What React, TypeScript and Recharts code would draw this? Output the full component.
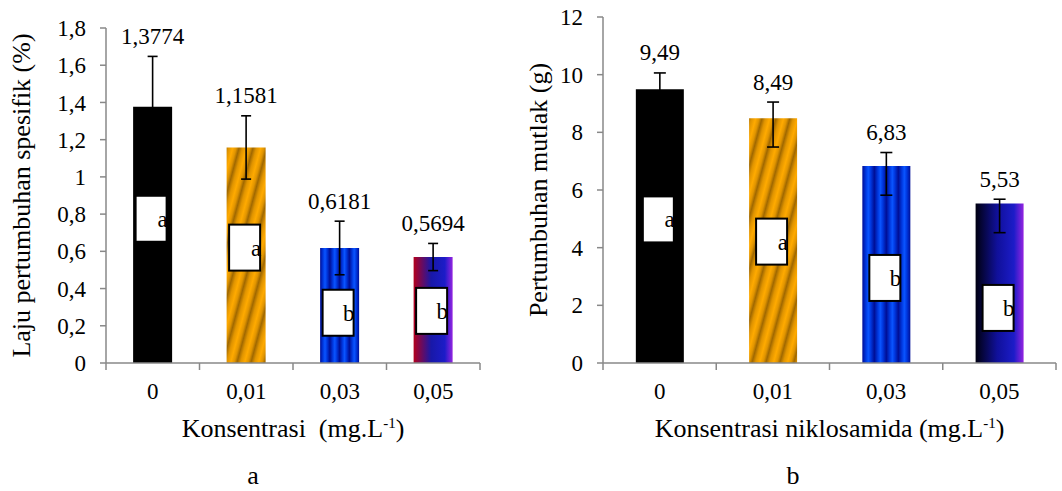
import { BarChart, Bar, XAxis, YAxis, Cell, ErrorBar, LabelList } from 'recharts';

const FONT = "'Liberation Serif', 'Times New Roman', serif";
const AXIS = '#888888';

const CATEGORIES = ['0', '0,01', '0,03', '0,05'];

// a: laju pertumbuhan spesifik (%)
const SGR = [1.3774, 1.1581, 0.6181, 0.5694];
const SGR_ERR = [0.27, 0.17, 0.144, 0.073];
const SGR_LETTERS = ['a', 'a', 'b', 'b'];
const SGR_LETTER_POS = [0.775, 0.62, 0.27, 0.28];
const SGR_TICKS = [0, 0.2, 0.4, 0.6, 0.8, 1, 1.2, 1.4, 1.6, 1.8];

// b: pertumbuhan mutlak (g)
const ABS = [9.49, 8.49, 6.83, 5.53];
const ABS_ERR_LOW = [1.0, 1.0, 1.01, 1.01];
const ABS_ERR_HIGH = [0.57, 0.56, 0.47, 0.15];
const ABS_LETTERS = ['a', 'a', 'b', 'b'];
const ABS_LETTER_POS = [4.98, 4.21, 2.95, 1.91];
const ABS_TICKS = [0, 2, 4, 6, 8, 10, 12];

type Row = { name: string; v: number; err: number[]; hi: number; letter: string; pos: number };

const sgrData: Row[] = CATEGORIES.map((name, i) => ({
  name,
  v: SGR[i],
  err: [SGR_ERR[i], SGR_ERR[i]],
  hi: SGR_ERR[i],
  letter: SGR_LETTERS[i],
  pos: SGR_LETTER_POS[i],
}));

const absData: Row[] = CATEGORIES.map((name, i) => ({
  name,
  v: ABS[i],
  err: [ABS_ERR_LOW[i], ABS_ERR_HIGH[i]],
  hi: ABS_ERR_HIGH[i],
  letter: ABS_LETTERS[i],
  pos: ABS_LETTER_POS[i],
}));

const fmt = (v: number) => String(v).replace('.', ',');

function Defs({ id, mix }: { id: string; mix: string[] }) {
  return (
    <defs>
      <linearGradient id={`${id}-gold`} gradientUnits="userSpaceOnUse" x1="0" y1="0" x2="13" y2="3.5" spreadMethod="repeat">
        <stop offset="0" stopColor="#a06800" />
        <stop offset="0.25" stopColor="#e09400" />
        <stop offset="0.55" stopColor="#ffaa00" />
        <stop offset="0.8" stopColor="#e09400" />
        <stop offset="1" stopColor="#a06800" />
      </linearGradient>
      <linearGradient id={`${id}-blue`} x1="0" y1="0" x2="0.25" y2="0" spreadMethod="repeat">
        <stop offset="0" stopColor="#000e96" />
        <stop offset="0.3" stopColor="#0038e0" />
        <stop offset="0.5" stopColor="#0a55ff" />
        <stop offset="0.7" stopColor="#0038e0" />
        <stop offset="1" stopColor="#000e96" />
      </linearGradient>
      <linearGradient id={`${id}-mix`} x1="0" y1="0" x2="1" y2="0">
        <stop offset="0" stopColor={mix[0]} />
        <stop offset="0.45" stopColor={mix[1]} />
        <stop offset="0.8" stopColor="#1c1cc8" />
        <stop offset="1" stopColor="#9424e0" />
      </linearGradient>
    </defs>
  );
}

interface PanelProps {
  id: string;
  data: Row[];
  ticks: number[];
  width: number;
  left: number;
  top: number;
  right: number;
  yAxisWidth: number;
  cap: number;
  mix: string[];
  yTitle: string;
  yTitleX: number;
  xTitle: string;
  caption: string;
  captionX: number;
}

function Panel(p: PanelProps) {
  const height = 491;
  const bottom = 68;
  const plotBottom = height - bottom - 60;
  const plotLeft = p.yAxisWidth;
  const plotRight = p.width - p.right;
  const half = (plotRight - plotLeft) / p.data.length / 2;
  const fills = ['#000', `url(#${p.id}-gold)`, `url(#${p.id}-blue)`, `url(#${p.id}-mix)`];
  const byValue = (v: number) => p.data.find((d) => d.v === v) as Row;

  const valueLabel = (props: any) => {
    const vb = props.viewBox ?? props;
    const { x, y, width, height: h } = vb;
    const row = byValue(Number(props.value));
    const k = h / row.v;
    const top = y - row.hi * k;
    return (
      <text x={x + width / 2} y={top - 12.5} textAnchor="middle" fontSize={23} fontFamily={FONT} fill="#000">
        {fmt(row.v)}
      </text>
    );
  };

  const letterBox = (props: any) => {
    const vb = props.viewBox ?? props;
    const { x, y, width, height: h } = vb;
    const row = byValue(Number(props.value));
    const k = h / row.v;
    const cy = y + h - row.pos * k;
    const bw = 31;
    const bh = 46;
    const bx = x + width / 2 - 1.5 - bw / 2;
    return (
      <g>
        <rect x={bx} y={cy - bh / 2} width={bw} height={bh} fill="#fff" stroke="#000" strokeWidth={2} />
        <text x={bx + bw + 1} y={cy + 8} textAnchor="end" fontSize={23} fontFamily={FONT} fill="#000">
          {row.letter}
        </text>
      </g>
    );
  };

  const catTick = (props: any) => {
    const { x, y, payload, index } = props;
    return (
      <g>
        <line x1={x - half} y1={y} x2={x - half} y2={y + 7} stroke={AXIS} strokeWidth={1.5} />
        {index === p.data.length - 1 && (
          <line x1={x + half} y1={y} x2={x + half} y2={y + 7} stroke={AXIS} strokeWidth={1.5} />
        )}
        <text x={x} y={y + 35.5} textAnchor="middle" fontSize={23} fontFamily={FONT} fill="#000">
          {payload.value}
        </text>
      </g>
    );
  };

  const xTitle = () => (
    <g>
      <text
        x={(plotLeft + plotRight) / 2}
        y={plotBottom + 74}
        textAnchor="middle"
        fontSize={26}
        fontFamily={FONT}
        fill="#000"
        style={{ whiteSpace: 'pre' }}
      >
        {p.xTitle}
        <tspan dy={-9} fontSize={15}>-1</tspan>
        <tspan dy={9}>)</tspan>
      </text>
      <text x={p.captionX} y={484} textAnchor="middle" fontSize={26} fontFamily={FONT} fill="#000">
        {p.caption}
      </text>
    </g>
  );

  const yTitle = () => {
    const cy = (p.top + plotBottom) / 2;
    return (
      <text
        x={p.yTitleX}
        y={cy}
        transform={`rotate(-90, ${p.yTitleX}, ${cy})`}
        textAnchor="middle"
        fontSize={26}
        fontFamily={FONT}
        fill="#000"
      >
        {p.yTitle}
      </text>
    );
  };

  return (
    <div style={{ position: 'absolute', left: p.left, top: 0 }}>
      <BarChart
        width={p.width}
        height={height}
        data={p.data}
        margin={{ top: p.top, right: p.right, bottom, left: 0 }}
        barCategoryGap="29%"
      >
        <Defs id={p.id} mix={p.mix} />
        <XAxis
          dataKey="name"
          interval={0}
          height={60}
          tickLine={false}
          tickSize={0}
          tickMargin={0}
          axisLine={{ stroke: AXIS, strokeWidth: 1.5 }}
          tick={catTick}
          label={xTitle}
        />
        <YAxis
          type="number"
          width={p.yAxisWidth}
          domain={[p.ticks[0], p.ticks[p.ticks.length - 1]]}
          ticks={p.ticks}
          interval={0}
          tickFormatter={fmt}
          tickSize={6}
          tickMargin={14}
          tick={{ fill: '#000', fontSize: 23, fontFamily: FONT }}
          axisLine={{ stroke: AXIS, strokeWidth: 1.5 }}
          tickLine={{ stroke: AXIS, strokeWidth: 1.5 }}
          label={yTitle}
        />
        <Bar dataKey="v" isAnimationActive={false}>
          {p.data.map((d, i) => (
            <Cell key={d.name} fill={fills[i]} stroke="none" />
          ))}
          <ErrorBar dataKey="err" width={p.cap} stroke="#000" strokeWidth={1.6} direction="y" />
          <LabelList dataKey="v" content={letterBox} />
          <LabelList dataKey="v" content={valueLabel} />
        </Bar>
      </BarChart>
    </div>
  );
}

export default function App() {
  return (
    <div style={{ position: 'absolute', left: 0, top: 0, width: 1062, height: 491, background: '#fff' }}>
      <Panel
        id="pa"
        data={sgrData}
        ticks={SGR_TICKS}
        width={515}
        left={0}
        top={28}
        right={35}
        yAxisWidth={106}
        cap={5}
        mix={['#b4001c', '#1818a8']}
        yTitle="Laju pertumbuhan spesifik (%)"
        yTitleX={30}
        xTitle="Konsentrasi  (mg.L"
        caption="a"
        captionX={253}
      />
      <Panel
        id="pb"
        data={absData}
        ticks={ABS_TICKS}
        width={547}
        left={515}
        top={17}
        right={6}
        yAxisWidth={88}
        cap={6}
        mix={['#000010', '#10109a']}
        yTitle="Pertumbuhan mutlak (g)"
        yTitleX={32}
        xTitle="Konsentrasi niklosamida (mg.L"
        caption="b"
        captionX={278}
      />
    </div>
  );
}
